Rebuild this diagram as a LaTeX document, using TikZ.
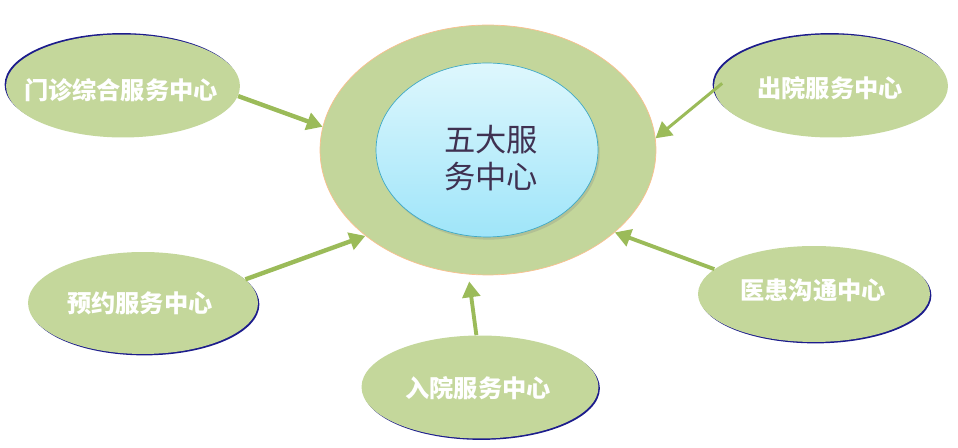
\documentclass[tikz,border=0pt]{standalone}
\usepackage{xcolor}
\usepackage{fontspec}
\usepackage{tikz}
\usetikzlibrary{shapes, shadows}
\usetikzlibrary{arrows,arrows.meta}
\newfontfamily\cjk{Noto Sans CJK SC}
\definecolor{satgreen}{HTML}{C4D79B}
\definecolor{ringgreen}{HTML}{C3D69B}
\definecolor{ringedge}{HTML}{FAC090}
\definecolor{arrowgreen}{HTML}{9BBB59}
\definecolor{coretop}{HTML}{DEF7FD}
\definecolor{corebottom}{HTML}{9FE5F9}
\definecolor{coreedge}{HTML}{3FA9C5}
\definecolor{coretext}{HTML}{3F3151}
\definecolor{rimblue}{HTML}{1C1C8C}
\tikzset{
  sat/.style={ellipse, fill=satgreen, inner sep=0pt},
  rimup/.style={drop shadow={fill=rimblue, opacity=1, shadow xshift=-0.8pt, shadow yshift=0.8pt}},
  rimdown/.style={drop shadow={fill=rimblue, opacity=1, shadow xshift=0.8pt, shadow yshift=-0.8pt}},
  satlabel/.style={text=white, font=\cjk\bfseries\fontsize{13.8}{16}\selectfont},
  flow/.style={draw=arrowgreen, line width=2.5pt, -{Triangle[length=9pt, width=10pt]}}
}

\begin{document}
\begin{tikzpicture}[x=0.02cm, y=-0.02cm]
\useasboundingbox (0,0) rectangle (958,448);
% centre
\node[ellipse, fill=ringgreen, draw=ringedge, thin, minimum width=6.72cm, minimum height=5cm, inner sep=0pt] (ring) at (488,150) {};
\node[ellipse, top color=coretop, bottom color=corebottom, draw=coreedge, thin, minimum width=4.44cm, minimum height=3.48cm, inner sep=0pt, drop shadow={opacity=0.25, shadow xshift=1pt, shadow yshift=-1.5pt}] (core) at (487,150) {};
\node[text=coretext, align=center, font=\cjk\fontsize{17.8}{21}\selectfont] (coretitle) at (491,158) {五大服\\务中心};
% centres around
\node[sat, rimup, minimum width=4.68cm, minimum height=2.06cm] (mz) at (123,86) {};
\node[satlabel] (mztext) at (121,90) {门诊综合服务中心};
\node[sat, rimup, minimum width=4.68cm, minimum height=2.06cm] (cy) at (831,86) {};
\node[satlabel] (cytext) at (830,88) {出院服务中心};
\node[sat, rimdown, minimum width=4.6cm, minimum height=2.04cm] (yy) at (143,303) {};
\node[satlabel] (yytext) at (140,303) {预约服务中心};
\node[sat, rimdown, minimum width=4.74cm, minimum height=2.06cm] (ry) at (480,387) {};
\node[satlabel] (rytext) at (478,388) {入院服务中心};
\node[sat, rimdown, minimum width=4.64cm, minimum height=1.92cm] (yh) at (814,294) {};
\node[satlabel] (yhtext) at (813,290) {医患沟通中心};
% arrows
\draw[flow] (mz.-5) -- (ring.172);
\draw[flow, line width=1.7pt, shorten <=-6pt] (cy.182) -- (ring.4);
\draw[flow] (yy.13) -- (ring.215);
\draw[flow, line width=2.2pt, shorten >=4pt] (ry.94) -- (ring.261);
\draw[flow, line width=2.2pt] (yh.166) -- (ring.-33);
\end{tikzpicture}
\end{document}
